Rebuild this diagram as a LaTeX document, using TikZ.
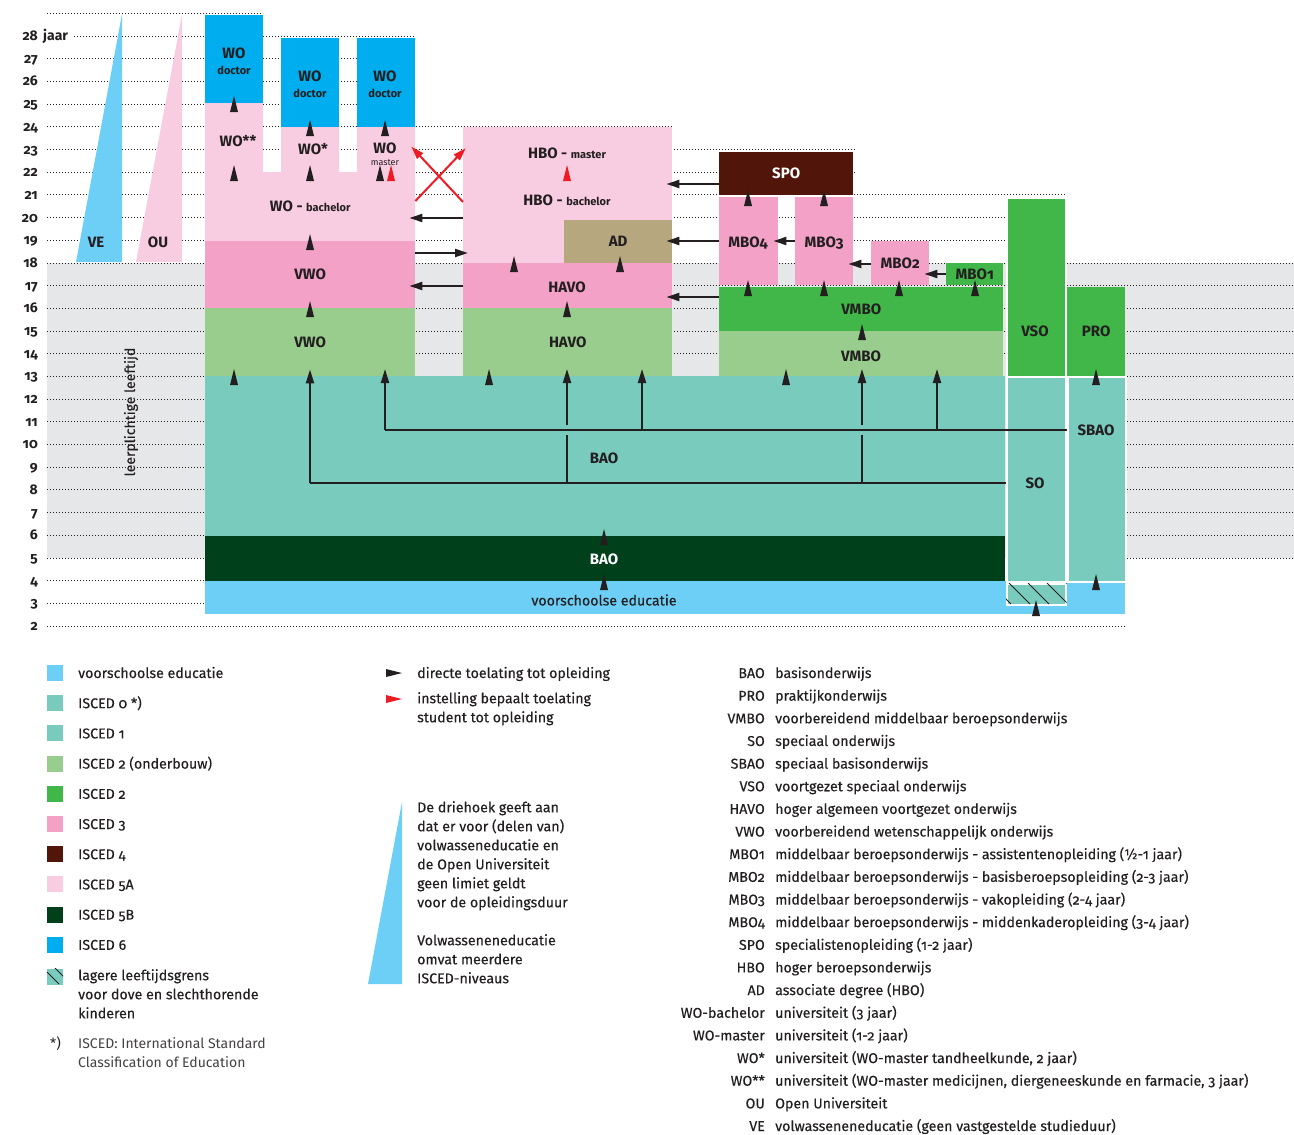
\documentclass[tikz,border=0pt]{standalone}
\usepackage{fontspec}
\setmainfont{Fira Sans}[Numbers=OldStyle]
\newfontfamily\medfont{Fira Sans}[Numbers=OldStyle,FakeBold=0.3]
\usepackage{tikz}
\usetikzlibrary{arrows.meta,positioning}
\definecolor{ink}{HTML}{231F20}
\definecolor{vschool}{HTML}{6DCFF6}
\definecolor{iscedteal}{HTML}{79CBBD}
\definecolor{onderbouw}{HTML}{98CD8E}
\definecolor{iscedgreen}{HTML}{41B649}
\definecolor{iscedpink}{HTML}{F3A1C6}
\definecolor{iscedbrown}{HTML}{52150A}
\definecolor{lightpink}{HTML}{F9CDE1}
\definecolor{darkgreen}{HTML}{00401A}
\definecolor{iscedblue}{HTML}{00AEEF}
\definecolor{adtan}{HTML}{B6A77E}
\definecolor{band}{HTML}{E6E7E8}
\definecolor{redarr}{HTML}{ED1C24}
\newcommand\lblfont{\fontsize{15}{17}\selectfont\bfseries}
\newcommand\smlfont{\fontsize{11}{12}\selectfont\bfseries}
\newcommand\txtfont{\medfont\fontsize{14.2}{19}\selectfont}
\newcommand\axfont{\fontsize{14}{15}\selectfont\bfseries}

\begin{document}
\begin{tikzpicture}[x=1pt,y=-1pt,
  blk/.style={fill=#1,inner sep=0pt,anchor=north west,text=ink,font=\lblfont,align=center},
  lbl/.style={text=ink,font=\lblfont,inner sep=0pt,align=center},
  leg/.style={text=ink,font=\txtfont,inner sep=0pt,anchor=base west,align=left},
  grid/.style={ink,line width=0.8pt,dash pattern=on 0.8pt off 2.2pt},
  ln/.style={ink,line width=2pt},
  upln/.style={ln,shorten >=-7pt,-{Triangle[length=14pt,width=8pt]}},
  harr/.style={ink,line width=2.2pt,shorten >=-6pt,-{Triangle[length=13pt,width=8pt]}},
  rarr/.style={redarr,line width=2pt,-{Triangle[length=13pt,width=8pt]}},
  uptip/.pic={\fill[ink] (-4,9) -- (0,-7) -- (4,9) -- cycle;},
  redtip/.pic={\fill[redarr] (-4,9) -- (0,-7) -- (4,9) -- cycle;}]
  \useasboundingbox (0,0) rectangle (1294,1135);
  \fill[band] (47,263) rectangle (1294,558);
  % age axis
  \foreach \a in {2,...,28}
    \node[anchor=base east,font=\axfont,text=ink,inner sep=0pt] (age\a) at (38,{630.5-(\a-2)*22.69}) {\a};
  \node[base right=5pt of age28,font=\axfont,text=ink,inner sep=0pt] (jaar) {jaar};
  \draw[grid,shorten <=6pt] (jaar.east |- 0,36) -- (415,36);
  \foreach \a/\xe in {29/263,27/415,26/415,25/415,24/672,23/855,22/855,21/1065,20/1005,19/1005,4/1125,3/1125,2/1125}
    \draw[grid] (47,{626-(\a-2)*22.69}) -- (\xe,{626-(\a-2)*22.69});
  \foreach \a in {5,...,18}
    \draw[grid] (47,{626-(\a-2)*22.69}) -- (1294,{626-(\a-2)*22.69});
  \node[rotate=90,text=ink,font=\medfont\fontsize{14}{15}\selectfont,inner sep=0pt] (leer) at (131,412) {leerplichtige leeftijd};
  % VE and OU
  \fill[vschool] (76,262) -- (122,14) -- (122,262) -- cycle;
  \fill[lightpink] (136,262) -- (182,14) -- (182,262) -- cycle;
  \node[lbl] (ve) at (96,242) {VE};
  \node[lbl] (ou) at (158,242) {OU};
  % WO
  \node[blk=iscedblue,minimum width=58pt,minimum height=88pt] (wodoc1) at (205,15) {};
  \node[blk=lightpink,minimum width=58pt,minimum height=69pt] (wo2s) at (205,103) {};
  \node[blk=iscedblue,minimum width=58pt,minimum height=89pt] (wodoc2) at (281,38) {};
  \node[blk=lightpink,minimum width=58pt,minimum height=45pt] (wo1s) at (281,127) {};
  \node[blk=iscedblue,minimum width=58pt,minimum height=89pt] (wodoc3) at (357,38) {};
  \node[blk=lightpink,minimum width=58pt,minimum height=45pt] (womas) at (357,127) {};
  \foreach \dx/\dy [count=\i] in {234/53,310/76,385/76} {
    \node[lbl] (docwo\i) at (\dx,\dy) {WO};
    \node[lbl,font=\smlfont] (doc\i) at (\dx,{\dy+17}) {doctor};
  }
  \node[lbl] (wo2stxt) at (238,141) {WO**};
  \node[lbl] (wo1stxt) at (313,149) {WO*};
  \node[lbl] (womastxt) at (385,148) {WO};
  \node[lbl,font=\fontsize{9}{10}\selectfont] (womassub) at (385,163) {master};
  \node[blk=lightpink,minimum width=210pt,minimum height=69pt] (wobach) at (205,172) {WO - {\smlfont bachelor}};
  \node[blk=iscedpink,minimum width=210pt,minimum height=67pt] (vwo3) at (205,241) {VWO};
  \node[blk=onderbouw,minimum width=210pt,minimum height=68pt] (vwo2) at (205,308) {VWO};
  % HBO
  \node[blk=lightpink,minimum width=209pt,minimum height=136pt] (hbo) at (463,127) {};
  \node[lbl] (hbomas) at (567,153) {HBO - {\smlfont master}};
  \node[lbl] (hbobach) at (567,200) {HBO - {\smlfont bachelor}};
  \node[blk=adtan,minimum width=108pt,minimum height=43pt] (ad) at (564,220) {AD};
  \node[blk=iscedpink,minimum width=209pt,minimum height=45pt] (havo3) at (463,263) {};
  \node[lbl] (havo3txt) at (567,287) {HAVO};
  \node[blk=onderbouw,minimum width=209pt,minimum height=68pt] (havo2) at (463,308) {HAVO};
  % MBO
  \node[blk=iscedbrown,minimum width=134pt,minimum height=43pt,text=white] (spo) at (719,152) {SPO};
  \node[blk=iscedpink,minimum width=59pt,minimum height=88pt] (mbo4) at (719,197) {};
  \node[lbl] (mbo4txt) at (748,243) {MBO4};
  \node[blk=iscedpink,minimum width=58pt,minimum height=88pt] (mbo3) at (795,197) {};
  \node[lbl] (mbo3txt) at (824,243) {MBO3};
  \node[blk=iscedpink,minimum width=58pt,minimum height=44pt] (mbo2) at (871,241) {MBO2};
  \node[blk=iscedgreen,minimum width=57pt,minimum height=22pt] (mbo1) at (946,263) {MBO1};
  \node[blk=iscedgreen,minimum width=284pt,minimum height=44pt] (vmbo3) at (719,287) {VMBO};
  \node[blk=onderbouw,minimum width=284pt,minimum height=45pt] (vmbo2) at (719,331) {};
  \node[lbl] (vmbo2txt) at (861,356) {VMBO};
  \node[blk=iscedgreen,minimum width=59pt,minimum height=179pt,draw=white,line width=1.5pt] (vso) at (1006,197) {};
  \node[lbl] (vsotxt) at (1035,331) {VSO};
  \node[blk=iscedgreen,minimum width=58pt,minimum height=89pt] (pro) at (1067,287) {PRO};
  % primary
  \node[blk=iscedteal,minimum width=800pt,minimum height=160pt] (bao1) at (205,376) {};
  \node[lbl] (bao1txt) at (604,458) {BAO};
  \node[blk=darkgreen,minimum width=800pt,minimum height=45pt,text=white] (bao0) at (205,536) {};
  \node[lbl,text=white] (bao0txt) at (604,559) {BAO};
  \node[blk=vschool,minimum width=920pt,minimum height=33pt] (vve) at (205,581) {};
  \node[text=ink,font=\txtfont,inner sep=0pt] (vvetxt) at (604,600) {voorschoolse educatie};
  \node[blk=iscedteal,minimum width=59pt,minimum height=205pt,draw=white,line width=1.5pt] (so) at (1006,376) {};
  \node[lbl] (sotxt) at (1035,483) {SO};
  \node[blk=iscedteal,minimum width=58pt,minimum height=205pt,draw=white,line width=1.5pt] (sbao) at (1067,376) {};
  \node[lbl] (sbaotxt) at (1096,430) {SBAO};
  \node[blk=iscedteal,minimum width=59pt,minimum height=21pt,draw=white,line width=1.5pt] (doof) at (1006,583) {};
  \begin{scope}
    \clip (doof.north west) rectangle (doof.south east);
    \foreach \hx in {990,1009,...,1070}
      \draw[ink,line width=1pt] (\hx,583) -- ++(21,21);
  \end{scope}
  % toelating
  \foreach \tx/\ty in {234/103,234/172,310/127,310/172,385/127,380/172,310/241,310/308,234/376,
      514/263,620/263,567/308,489/376,748/197,824/197,748/287,824/287,899/287,975/287,
      862/331,786/376,1096/376,604/536,604/581,1036/607,1096/581}
    \pic at (\tx,\ty) {uptip};
  \pic at (391,172) {redtip};
  \pic at (567,172) {redtip};
  \draw[harr] (hbo.west |- 0,218) -- (wobach.east |- 0,218);
  \draw[harr,shorten >=-5pt] (vwo3.east |- 0,253) -- (hbo.west |- 0,253);
  \draw[harr] (havo3.west |- 0,286) -- (vwo3.east |- 0,286);
  \draw[harr] (spo.west |- 0,184) -- (hbo.east |- 0,184);
  \draw[harr] (mbo4.west |- 0,241) -- (ad.east |- 0,241);
  \draw[harr,shorten >=-5pt] (mbo3.west |- 0,241) -- (mbo4.east |- 0,241);
  \draw[harr,shorten >=-5pt] (mbo2.west |- 0,264) -- (mbo3.east |- 0,264);
  \draw[harr,shorten >=-5pt] (mbo1.west |- 0,274) -- (mbo2.east |- 0,274);
  \draw[harr] (vmbo3.west |- 0,297) -- (havo3.east |- 0,297);
  \draw[rarr,shorten >=-4pt] (womas.east |- 0,201) -- (hbo.west |- 0,151);
  \draw[rarr,shorten >=-6pt] (hbo.west |- 0,202) -- (womas.east |- 0,151);
  % lijnen vanuit BAO
  \coordinate (bo8) at (310,483);
  \coordinate (bo11) at (385,430);
  \draw[ln] (so.west |- bo8) -- (bo8);
  \draw[ln] (sbao.west |- bo11) -- (bo11);
  \draw[upln] (bo8) -- (vwo2.south -| bo8);
  \foreach \lx in {567,862} {
    \draw[ln] (\lx,483) -- (\lx,435);
    \draw[upln] (\lx,425) -- (\lx,376);
  }
  \foreach \lx in {385,642,937}
    \draw[upln] (\lx,430) -- (\lx,376);
  % legenda links
  \foreach \c/\t [count=\i from 0] in {vschool/voorschoolse educatie,iscedteal/ISCED 0 *),iscedteal/ISCED 1,
      onderbouw/ISCED 2 (onderbouw),iscedgreen/ISCED 2,iscedpink/ISCED 3,iscedbrown/ISCED 4,
      lightpink/ISCED 5A,darkgreen/ISCED 5B,iscedblue/ISCED 6} {
    \node[fill=\c,minimum size=16pt,inner sep=0pt] (sw\i) at (55,{673+\i*30.2}) {};
    \node[leg] (lt\i) at (78,{678+\i*30.2}) {\t};
  }
  \node[fill=iscedteal,minimum size=16pt,inner sep=0pt] (sw10) at (55,977) {};
  \begin{scope}
    \clip (sw10.north west) rectangle (sw10.south east);
    \draw[ink,line width=1pt] (47,972) -- ++(12,12);
    \draw[ink,line width=1pt] (53,966) -- ++(14,14);
  \end{scope}
  \node[leg,anchor=north west] (lt10) at (78,969) {lagere leeftijdsgrens\\voor dove en slechthorende\\kinderen};
  \node[leg,font=\fontsize{14}{19}\selectfont] (ster) at (50,1048) {*)};
  \node[leg,anchor=north west,font=\fontsize{14}{19}\selectfont,text=ink!85] (isced) at (78,1037) {ISCED: International Standard\\Classification of Education};
  % legenda midden
  \fill[ink] (386,669) -- (402,673) -- (386,677) -- cycle;
  \fill[redarr] (386,695) -- (402,699) -- (386,703) -- cycle;
  \node[leg] (dirtxt) at (417,678) {directe toelating tot opleiding};
  \node[leg,anchor=north west] (insttxt) at (417,692) {instelling bepaalt toelating\\student tot opleiding};
  \fill[vschool] (368,984) -- (402,802) -- (402,984) -- cycle;
  \node[leg,anchor=north west] (drietxt) at (417,801) {De driehoek geeft aan\\dat er voor (delen van)\\volwasseneducatie en\\de Open Universiteit\\geen limiet geldt\\voor de opleidingsduur};
  \node[leg,anchor=north west] (vwtxt) at (417,934) {Volwasseneneducatie\\omvat meerdere\\ISCED-niveaus};
  % legenda rechts
  \foreach \ab/\ds [count=\i from 0] in {BAO/basisonderwijs,PRO/praktijkonderwijs,
      VMBO/voorbereidend middelbaar beroepsonderwijs,SO/speciaal onderwijs,
      SBAO/speciaal basisonderwijs,VSO/voortgezet speciaal onderwijs,
      HAVO/hoger algemeen voortgezet onderwijs,VWO/voorbereidend wetenschappelijk onderwijs,
      MBO1/middelbaar beroepsonderwijs - assistentenopleiding (½-1 jaar),
      MBO2/middelbaar beroepsonderwijs - basisberoepsopleiding (2-3 jaar),
      MBO3/middelbaar beroepsonderwijs - vakopleiding (2-4 jaar),
      MBO4/middelbaar beroepsonderwijs - middenkaderopleiding (3-4 jaar),
      SPO/specialistenopleiding (1-2 jaar),HBO/hoger beroepsonderwijs,
      AD/associate degree (HBO),WO-bachelor/universiteit (3 jaar),
      WO-master/universiteit (1-2 jaar),
      WO*/{universiteit (WO-master tandheelkunde, 2 jaar)},
      WO**/{universiteit (WO-master medicijnen, diergeneeskunde en farmacie, 3 jaar)},
      OU/Open Universiteit,VE/volwasseneneducatie (geen vastgestelde studieduur)} {
    \node[leg,anchor=base east] (ab\i) at (765,{678+\i*22.65}) {\ab};
    \node[leg] (ds\i) at (775,{678+\i*22.65}) {\ds};
  }
\end{tikzpicture}
\end{document}
